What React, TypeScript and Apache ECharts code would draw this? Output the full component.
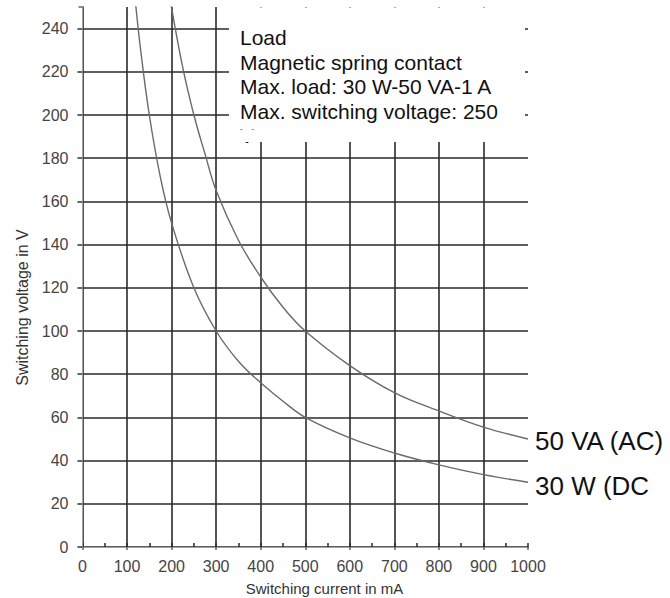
import React, { useEffect, useRef } from "react";
import * as echarts from "echarts";

// 30 W (DC) curve
const dcCurrent = [118, 130, 150, 175, 200, 250, 300, 350, 400, 450, 500, 600, 700, 800, 900, 1000];
const dcVoltage = [254, 231, 200, 171, 150, 120, 100, 86, 76, 67.5, 60, 50.5, 43.5, 38, 33.5, 30];
// 50 VA (AC) curve
const acCurrent = [198, 225, 250, 275, 300, 350, 400, 450, 500, 600, 700, 800, 900, 1000];
const acVoltage = [252, 222, 200, 182, 165, 142, 125, 111, 100, 84, 71.5, 63, 55.5, 50];

const loadLines = ["Load", "Magnetic spring contact", "Max. load: 30 W-50 VA-1 A", "Max. switching voltage: 250", "V"];
const curveLabels = ["50 VA (AC)", "30 W (DC"];
const xAxisName = "Switching current in mA";
const yAxisName = "Switching voltage in V";

export default function App() {
  const ref = useRef<HTMLDivElement>(null);
  useEffect(() => {
    const chart = echarts.init(ref.current as HTMLDivElement, null, { renderer: "svg" });
    const font = "'Liberation Sans', Arial, sans-serif";
    const dark = "#2a2a2a";
    const grey = "#a0a0a0";
    const boxX = 229, boxY = 7.5, boxW = 296, boxH = 134.5;
    const lineMid = [37.7, 62.2, 86.7, 111.2, 135.7];

    const option: any = {
      animation: false,
      backgroundColor: "#ffffff",
      grid: { left: 82.5, right: 142, top: 7, bottom: 51, containLabel: false },
      xAxis: [
        {
          type: "value", min: 0, max: 1000, interval: 100, position: "bottom", z: 0,
          axisLine: { show: true, lineStyle: { color: dark, width: 1.6 } },
          axisTick: { show: true, inside: true, length: 4, lineStyle: { color: dark, width: 1.5 } },
          minorTick: { show: true, splitNumber: 2, length: 4, lineStyle: { color: dark, width: 1.5 } },
          axisLabel: { margin: 11, fontSize: 16, color: "#444", fontFamily: font, formatter: (v: number) => String(v) },
          splitLine: { show: true, showMinLine: false, showMaxLine: false, lineStyle: { color: dark, width: 1.6 } },
        },
        {
          type: "value", min: 0, max: 1000, interval: 100, position: "top", z: 5,
          axisLine: { show: true, lineStyle: { color: grey, width: 1 } },
          axisTick: { show: true, inside: true, length: 3, lineStyle: { color: "#666", width: 1.5 } },
          axisLabel: { show: false },
          splitLine: { show: false },
        },
      ],
      yAxis: [
        {
          type: "value", min: 0, max: 250, interval: 20, position: "left", z: 0,
          axisLine: { show: true, lineStyle: { color: dark, width: 1.6 } },
          axisTick: { show: true, inside: false, length: 5, lineStyle: { color: dark, width: 1.5 } },
          axisLabel: { margin: 14, fontSize: 16, color: "#444", fontFamily: font, showMaxLabel: false },
          splitLine: { show: true, showMinLine: false, showMaxLine: false, lineStyle: { color: dark, width: 1.6 } },
        },
        {
          type: "value", min: 0, max: 250, interval: 20, position: "right", z: 5,
          axisLine: { show: true, lineStyle: { color: grey, width: 1 } },
          axisTick: { show: true, inside: true, length: 4, lineStyle: { color: "#666", width: 1.5 } },
          axisLabel: { show: false },
          splitLine: { show: false },
        },
      ],
      series: [
        {
          name: "30 W (DC)", type: "line", xAxisIndex: 0, yAxisIndex: 0, smooth: 0.4, symbol: "none", z: 2,
          lineStyle: { color: "#6a6a6a", width: 1.4 },
          data: dcCurrent.map((c, i) => [c, dcVoltage[i]]),
        },
        {
          name: "50 VA (AC)", type: "line", xAxisIndex: 0, yAxisIndex: 0, smooth: 0.4, symbol: "none", z: 2,
          lineStyle: { color: "#6a6a6a", width: 1.4 },
          data: acCurrent.map((c, i) => [c, acVoltage[i]]),
        },
      ],
      graphic: [
        { type: "rect", z: 1, shape: { x: boxX, y: boxY, width: boxW, height: boxH }, style: { fill: "#ffffff" } },
        ...loadLines.map((t, i) => ({
          type: "text", z: 2, x: 240, y: lineMid[i],
          style: { text: t, fontSize: 21, fontFamily: font, fill: "#111", align: "left", verticalAlign: "middle" },
        })),
        { type: "rect", z: 3, shape: { x: boxX, y: 129.5, width: boxW, height: boxY + boxH - 129.5 }, style: { fill: "#ffffff" } },
        ...curveLabels.map((t, i) => ({
          type: "text", z: 10, x: 535, y: i === 0 ? 440.6 : 485.6,
          style: { text: t, fontSize: 26, fontFamily: font, fill: "#111", align: "left", verticalAlign: "middle" },
        })),
        {
          type: "text", z: 10, x: 324.5, y: 588,
          style: { text: xAxisName, fontSize: 15, fontFamily: font, fill: "#333", align: "center", verticalAlign: "middle" },
        },
        {
          type: "text", z: 10, x: 22.8, y: 307.5, rotation: Math.PI / 2,
          style: { text: yAxisName, fontSize: 16, fontFamily: font, fill: "#333", align: "center", verticalAlign: "middle" },
        },
      ],
    };
    chart.setOption(option);
    return () => chart.dispose();
  }, []);
  return <div ref={ref} style={{ position: "absolute", left: 0, top: 0, width: 670, height: 598 }} />;
}
